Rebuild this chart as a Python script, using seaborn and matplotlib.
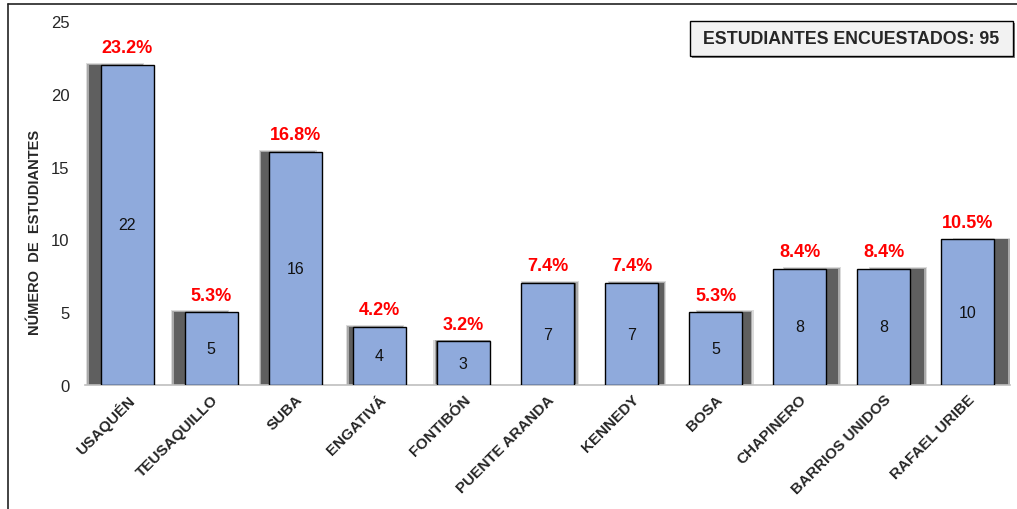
import matplotlib
matplotlib.use("Agg")
import matplotlib.pyplot as plt
import seaborn as sns
import numpy as np
import pandas as pd
from matplotlib.lines import Line2D
from matplotlib.patches import Rectangle

localidades = ["USAQUÉN", "TEUSAQUILLO", "SUBA", "ENGATIVÁ", "FONTIBÓN", "PUENTE ARANDA",
               "KENNEDY", "BOSA", "CHAPINERO", "BARRIOS UNIDOS", "RAFAEL URIBE"]
estudiantes = [22, 5, 16, 4, 3, 7, 7, 5, 8, 8, 10]
porcentajes = ["23.2%", "5.3%", "16.8%", "4.2%", "3.2%", "7.4%", "7.4%", "5.3%", "8.4%", "8.4%", "10.5%"]
total_label = "ESTUDIANTES ENCUESTADOS: 95"
yticks = [0, 5, 10, 15, 20, 25]

sns.set_theme(style="white")
plt.rcParams['font.family'] = ['Liberation Sans', 'DejaVu Sans']

fig = plt.figure(figsize=(10.17, 5.10), dpi=100)
ax = fig.add_axes([0.0836, 0.243, 0.9094, 0.714])

df = pd.DataFrame({"loc": localidades, "n": estudiantes})
width = 0.63
n = len(localidades)
xs = np.arange(n)
vals = np.array(estudiantes, dtype=float)

# soft perspective shadows (offset grows toward the sides)
off = np.clip((xs - 4.3) * 3.3, -12, 14) / 84.0
for dw, dh, a in [(0.06, 0.12, 0.2), (0.03, 0.06, 0.35), (0.0, 0.0, 0.8)]:
    ax.bar(xs + off, vals + dh, width=width + dw, color="#4d4d4d", alpha=a,
           linewidth=0, zorder=1)

sns.barplot(data=df, x="loc", y="n", color="#8FAADC", edgecolor="black", linewidth=1.0,
            width=width, saturation=1, ax=ax, zorder=3)

for i, (v, p) in enumerate(zip(estudiantes, porcentajes)):
    ax.text(i, v / 2, str(v), ha="center", va="center", fontsize=11.5, color="#111111", zorder=5)
    ax.text(i, v + 0.6, p, ha="center", va="bottom", fontsize=13, fontweight="bold",
            color="#FF0000", zorder=5)

ax.set_ylim(0, 25)
ax.set_xlim(-0.5, n - 0.5)
ax.set_yticks(yticks)
ax.set_yticklabels([str(t) for t in yticks], fontsize=12)
ax.tick_params(axis="y", length=0, pad=11)
ax.tick_params(axis="x", length=0, pad=5)
ax.set_xticks(xs)
ax.set_xticklabels(localidades, rotation=45, ha="right", rotation_mode="anchor",
                   fontsize=11, fontweight="bold")
ax.set_xlabel("")
ax.set_ylabel("NÚMERO  DE  ESTUDIANTES", fontsize=10.5, fontweight="bold")
ax.yaxis.set_label_coords(-0.047, 0.423)
for s in ["top", "right", "left"]:
    ax.spines[s].set_visible(False)
ax.spines["bottom"].set_color("#bfbfbf")
ax.spines["bottom"].set_linewidth(1.2)
ax.grid(False)

# summary box with a slight shadow
fig.add_artist(Rectangle((0.6800, 0.884), 0.3176, 0.069, transform=fig.transFigure,
                         facecolor="#7f7f7f", edgecolor="none", zorder=4))
fig.add_artist(Rectangle((0.6785, 0.888), 0.3176, 0.069, transform=fig.transFigure,
                         facecolor="#F2F2F2", edgecolor="black", linewidth=1.0, zorder=5))
fig.text(0.8373, 0.9225, total_label, ha="center", va="center", fontsize=12.8,
         fontweight="bold", zorder=6)

# outer frame (left and top)
fig.add_artist(Line2D([0.0079, 0.0079], [0, 0.990], color="#222222", linewidth=1.2))
fig.add_artist(Line2D([0.0079, 1.0], [0.990, 0.990], color="#222222", linewidth=1.2))

fig.savefig("out.png", dpi=100)
